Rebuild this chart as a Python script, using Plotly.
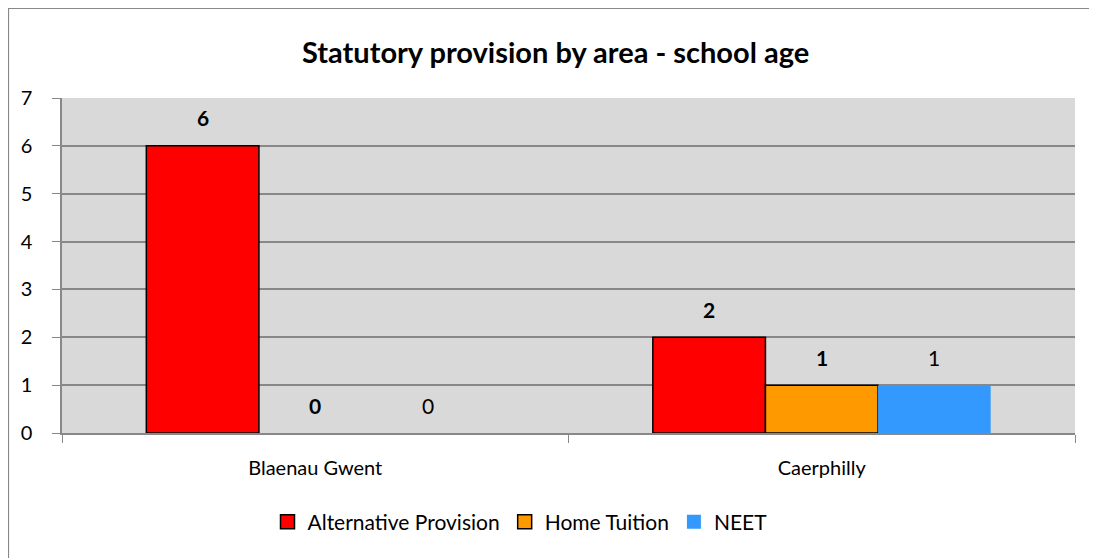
import plotly.graph_objects as go

categories = ["Blaenau Gwent", "Caerphilly"]
series_names = ["Alternative Provision", "Home Tuition", "NEET"]
alt_provision = [6, 2]
home_tuition = [0, 1]
neet = [0, 1]
y_ticks = [0, 1, 2, 3, 4, 5, 6, 7]

values = [alt_provision, home_tuition, neet]
colors = ["#ff0000", "#ff9900", "#3399ff"]
outlines = ["#000000", "#000000", "rgba(0,0,0,0)"]
bold = [True, True, False]

# page has an 8px body margin, so the figure is sized/placed accordingly
W, H = 1089, 550
ml, mr, mt, mb = 54, 22, 90, 125
bargap = 0.333
FONT = "Lato"
plot_h = H - mt - mb
plot_w = W - ml - mr

fig = go.Figure()
for name, vals, c, oc in zip(series_names, values, colors, outlines):
    fig.add_trace(go.Bar(
        x=categories, y=vals, name=name, legendgroup=name, showlegend=False,
        marker=dict(color=c, line=dict(color=oc, width=[1.5 if v > 0 else 0 for v in vals])),
    ))
# legend entries (square swatches with outlines)
for name, c, oc in zip(series_names, colors, outlines):
    fig.add_trace(go.Scatter(
        x=[None], y=[None], mode="markers", name=name, legendgroup=name,
        marker=dict(symbol="square", size=14, color=c, line=dict(color=oc, width=1.5)),
    ))

cat_px = plot_w / len(categories)
bar_px = cat_px * (1 - bargap) / len(series_names)
annotations = []
for j, vals in enumerate(values):
    for cat, v in zip(categories, vals):
        txt = f"<b>{v}</b>" if bold[j] else f"{v}"
        annotations.append(dict(
            x=cat, y=v, xref="x", yref="y", text=txt, showarrow=False,
            xshift=(j - (len(series_names) - 1) / 2) * bar_px, yshift=28,
            font=dict(family=FONT, size=21, color="#000000"),
        ))

annotations.append(dict(
    text="<b>Statutory provision by area - school age</b>", xref="paper", yref="paper",
    x=(547 - ml) / plot_w, y=(H - mb - 44) / plot_h, showarrow=False,
    font=dict(family=FONT, size=29, color="#000000"), xanchor="center", yanchor="middle",
))

fig.update_layout(
    width=W, height=H,
    margin=dict(l=ml, r=mr, t=mt, b=mb),
    paper_bgcolor="#ffffff", plot_bgcolor="#d9d9d9",
    barmode="group", bargap=bargap, bargroupgap=0,
    font=dict(family=FONT, size=20, color="#000000"),
    showlegend=True,
    legend=dict(orientation="h", x=(512 - ml) / plot_w, xanchor="center",
                y=(H - mb - 514) / plot_h, yanchor="middle",
                font=dict(family=FONT, size=21), itemwidth=30,
                bgcolor="rgba(0,0,0,0)"),
    annotations=annotations,
    shapes=[dict(type="rect", xref="paper", yref="paper",
                 x0=(0.5 - ml) / plot_w, x1=1.2,
                 y0=-1.0, y1=(H - mb - 0.5) / plot_h,
                 line=dict(color="#888888", width=1.2), fillcolor="rgba(0,0,0,0)",
                 layer="below")],
)
fig.update_xaxes(
    type="category", tickson="boundaries", ticks="outside", ticklen=8,
    tickcolor="#888888", showline=True, linecolor="#888888", linewidth=1.5,
    showgrid=False, ticklabelstandoff=16, tickfont=dict(family=FONT, size=20),
)
fig.update_yaxes(
    range=[0, 7], tickvals=y_ticks, ticks="outside", ticklen=8, tickcolor="#888888",
    showline=True, linecolor="#888888", linewidth=1.5,
    showgrid=True, gridcolor="#888888", gridwidth=1.5, zeroline=False,
    ticklabelstandoff=16, tickfont=dict(family=FONT, size=20),
)

fig.write_html("out.html")
